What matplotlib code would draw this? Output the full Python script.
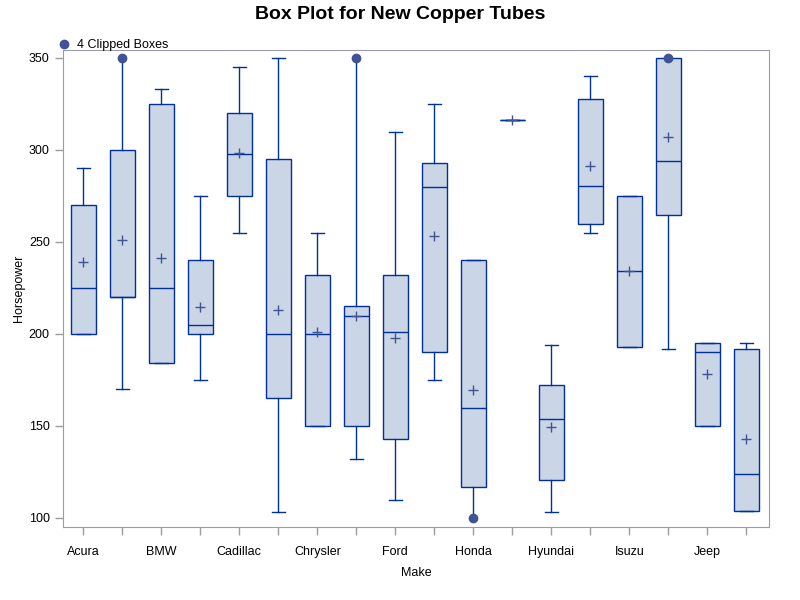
import matplotlib
matplotlib.use("Agg")
import matplotlib.pyplot as plt
from matplotlib.lines import Line2D

plt.rcParams['font.family'] = ['Liberation Sans', 'DejaVu Sans']

makes = ["Acura", "Audi", "BMW", "Buick", "Cadillac", "Chevrolet", "Chrysler", "Dodge",
         "Ford", "GMC", "Honda", "Hummer", "Hyundai", "Infiniti", "Isuzu", "Jaguar", "Jeep", "Kia"]
whisker_low = [200, 170, 184, 175, 255, 103, 150, 132, 110, 175, 100, 316, 103, 255, 193, 192, 150, 104]
q1          = [200, 220, 184, 200, 275, 165, 150, 150, 143, 190, 117, 316, 120.5, 260, 193, 264.5, 150, 104]
median      = [225, 220, 225, 205, 298, 200, 200, 210, 201, 280, 160, 316, 154, 280.4, 234, 294, 190, 124]
q3          = [270, 300, 325, 240, 320, 295, 232, 215, 232, 293, 240, 316, 172, 327.5, 275, 350, 195, 192]
whisker_high= [290, 350, 333, 275, 345, 350, 255, 350, 310, 325, 240, 316, 194, 340, 275, 350, 195, 195]
means       = [239, 251, 241.3, 214.7, 298.4, 213, 201, 209.6, 197.7, 253, 169.4, 316, 149.3, 291.1, 234, 307, 178.1, 142.8]
clipped_high = ["Audi", "Dodge", "Jaguar"]
clipped_low = ["Honda"]
legend_label = "4 Clipped Boxes"

edge = "#00309A"
fill = "#CAD5E5"
mark = "#3F5395"
gray = "#9A9DA2"

fig = plt.figure(figsize=(8, 6), dpi=100)
ax = fig.add_axes([0.07875, 0.1217, 0.8825, 0.795])

stats = []
for i, m in enumerate(makes):
    stats.append(dict(label=m, whislo=whisker_low[i], q1=q1[i], med=median[i],
                      q3=q3[i], whishi=whisker_high[i], mean=means[i], fliers=[]))

pos = list(range(len(makes)))
res = ax.bxp(stats, positions=pos, widths=0.65, patch_artist=True, showmeans=True,
             boxprops=dict(facecolor=fill, edgecolor=edge, linewidth=1.0),
             medianprops=dict(color=edge, linewidth=1.0),
             whiskerprops=dict(color=edge, linewidth=1.0),
             capprops=dict(color=edge, linewidth=1.0),
             capwidths=0.34,
             meanprops=dict(marker='+', markeredgecolor=mark, markersize=7, markeredgewidth=1.0))

for i, m in enumerate(makes):
    if m in clipped_high:
        res['caps'][2 * i + 1].set_visible(False)
        ax.plot(i, whisker_high[i], 'o', color=mark, markersize=6, zorder=5, clip_on=False)
    if m in clipped_low:
        res['caps'][2 * i].set_visible(False)
        ax.plot(i, whisker_low[i], 'o', color=mark, markersize=6, zorder=5, clip_on=False)

ax.set_xlim(-0.52, 17.58)
ax.set_ylim(95.1, 354.3)
ax.set_xticks(pos)
ax.set_xticklabels([m if i % 2 == 0 else "" for i, m in enumerate(makes)], fontsize=9)
ax.set_yticks([100, 150, 200, 250, 300, 350])
ax.tick_params(axis='both', colors=gray, labelcolor='black', labelsize=9, length=6, width=1)
ax.tick_params(axis='x', pad=8)
for s in ax.spines.values():
    s.set_color(gray)
ax.set_xlabel("Make", fontsize=9, labelpad=6)
ax.set_ylabel("Horsepower", fontsize=9, labelpad=3)

fig.suptitle("Box Plot for New Copper Tubes", fontsize=14, fontweight='bold', y=0.99)

h = Line2D([], [], marker='o', color=mark, linestyle='none', markersize=6)
fig.legend([h], [legend_label], loc='upper left', bbox_to_anchor=(0.066, 0.943),
           frameon=False, fontsize=9, handletextpad=0.5, borderaxespad=0, handlelength=1)

fig.savefig("out.png", dpi=100)
